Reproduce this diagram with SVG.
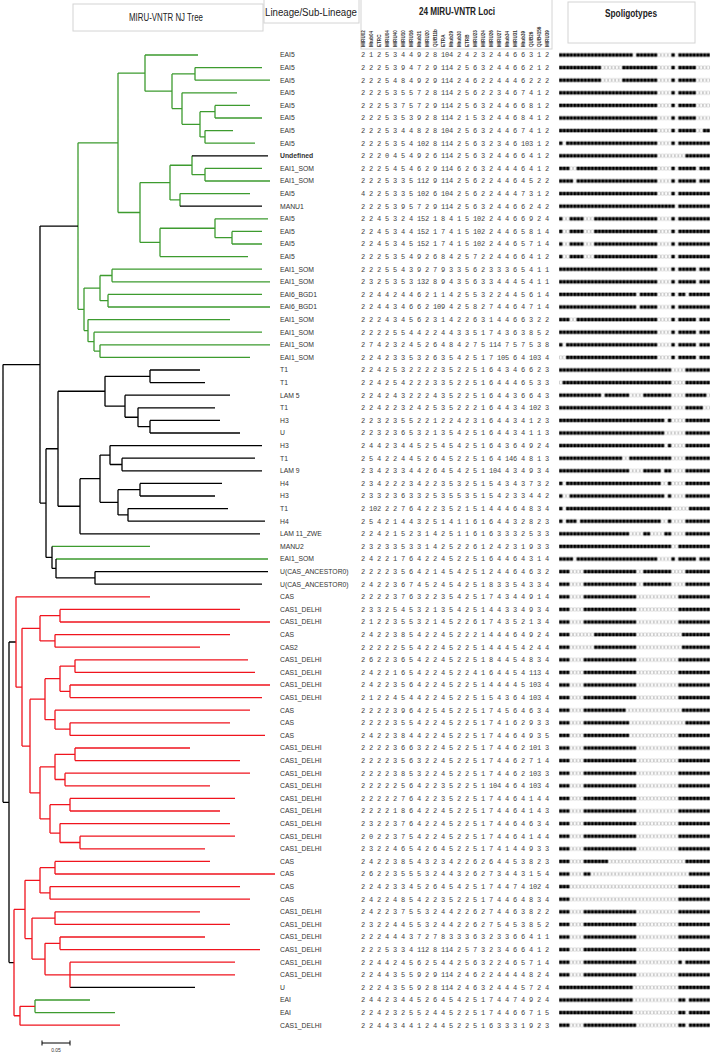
<svg xmlns="http://www.w3.org/2000/svg" width="712" height="1055" viewBox="0 0 712 1055">
<style>
.hd{font-family:"Liberation Sans",Arial,sans-serif;font-size:10px;fill:#222}
.hb{font-weight:bold}
.lc{font-family:"Liberation Sans",Arial,sans-serif;font-size:4.6px;font-weight:bold;fill:#333}
.lb{font-family:"Liberation Sans",Arial,sans-serif;font-size:6.8px;fill:#333}
.n{font-family:"Liberation Mono",monospace;font-size:7px;letter-spacing:-0.2px;fill:#444}
.box{fill:#fff;stroke:#d4d4d4;stroke-width:1}
.g{stroke:#3d9b2f;fill:none;stroke-width:1.3}
.k{stroke:#000;fill:none;stroke-width:1.3}
.r{stroke:#f0141e;fill:none;stroke-width:1.3}
</style>
<defs>
<pattern id="pw" width="1" height="1" patternUnits="userSpaceOnUse"><rect x=".07" y=".365" width=".86" height=".27" fill="#a8a8a8"/><rect x=".2" y=".395" width=".6" height=".21" fill="#fff"/></pattern>
<pattern id="pb" width="1" height="1" patternUnits="userSpaceOnUse"><rect x=".07" y=".365" width=".86" height=".27" fill="#000"/></pattern>
</defs>
<rect width="712" height="1055" fill="#fff"/>
<g id="header">
<rect class="box" x="73" y="4" width="190" height="27"/>
<text class="hd" x="166" y="21" text-anchor="middle" textLength="74" lengthAdjust="spacingAndGlyphs">MIRU-VNTR NJ Tree</text>
<rect class="box" x="264" y="-1" width="95" height="24"/>
<text class="hd" x="311" y="16" text-anchor="middle" textLength="92" lengthAdjust="spacingAndGlyphs">Lineage/Sub-Lineage</text>
<rect class="box" x="361" y="-1" width="191" height="50"/>
<text class="hd hb" x="457" y="15" text-anchor="middle" textLength="76" lengthAdjust="spacingAndGlyphs">24 MIRU-VNTR Loci</text>
<rect class="box" x="568" y="2" width="127" height="41"/>
<text class="hd hb" x="631" y="17" text-anchor="middle" textLength="52" lengthAdjust="spacingAndGlyphs">Spoligotypes</text>
</g>
<g id="loci-names">
<text class="lc" transform="translate(364.6 47) rotate(-90)">MIRU02</text>
<text class="lc" transform="translate(372.6 47) rotate(-90)">Mtub04</text>
<text class="lc" transform="translate(380.6 47) rotate(-90)">ETRC</text>
<text class="lc" transform="translate(388.6 47) rotate(-90)">MIRU04</text>
<text class="lc" transform="translate(396.6 47) rotate(-90)">MIRU40</text>
<text class="lc" transform="translate(404.6 47) rotate(-90)">MIRU10</text>
<text class="lc" transform="translate(412.6 47) rotate(-90)">MIRU16</text>
<text class="lc" transform="translate(420.6 47) rotate(-90)">Mtub21</text>
<text class="lc" transform="translate(428.6 47) rotate(-90)">MIRU20</text>
<text class="lc" transform="translate(436.6 47) rotate(-90)">QUB11b</text>
<text class="lc" transform="translate(444.6 47) rotate(-90)">ETRA</text>
<text class="lc" transform="translate(452.6 47) rotate(-90)">Mtub29</text>
<text class="lc" transform="translate(460.6 47) rotate(-90)">Mtub30</text>
<text class="lc" transform="translate(468.6 47) rotate(-90)">ETRB</text>
<text class="lc" transform="translate(476.6 47) rotate(-90)">MIRU23</text>
<text class="lc" transform="translate(484.6 47) rotate(-90)">MIRU24</text>
<text class="lc" transform="translate(492.6 47) rotate(-90)">MIRU26</text>
<text class="lc" transform="translate(500.6 47) rotate(-90)">MIRU27</text>
<text class="lc" transform="translate(508.6 47) rotate(-90)">Mtub34</text>
<text class="lc" transform="translate(516.6 47) rotate(-90)">MIRU31</text>
<text class="lc" transform="translate(524.6 47) rotate(-90)">Mtub39</text>
<text class="lc" transform="translate(532.6 47) rotate(-90)">QUB26</text>
<text class="lc" transform="translate(540.6 47) rotate(-90)">QUB4156</text>
<text class="lc" transform="translate(548.6 47) rotate(-90)">MIRU39</text>
</g>
<g id="lineages" class="lb">
<text x="280" y="57.4">EAI5</text>
<text x="280" y="70">EAI5</text>
<text x="280" y="82.6">EAI5</text>
<text x="280" y="95.2">EAI5</text>
<text x="280" y="107.8">EAI5</text>
<text x="280" y="120.4">EAI5</text>
<text x="280" y="133">EAI5</text>
<text x="280" y="145.6">EAI5</text>
<text x="280" y="158.2" font-weight="bold">Undefined</text>
<text x="280" y="170.8">EAI1_SOM</text>
<text x="280" y="183.4">EAI1_SOM</text>
<text x="280" y="196">EAI5</text>
<text x="280" y="208.6">MANU1</text>
<text x="280" y="221.2">EAI5</text>
<text x="280" y="233.8">EAI5</text>
<text x="280" y="246.4">EAI5</text>
<text x="280" y="259">EAI5</text>
<text x="280" y="271.6">EAI1_SOM</text>
<text x="280" y="284.2">EAI1_SOM</text>
<text x="280" y="296.8">EAI6_BGD1</text>
<text x="280" y="309.4">EAI6_BGD1</text>
<text x="280" y="322">EAI1_SOM</text>
<text x="280" y="334.6">EAI1_SOM</text>
<text x="280" y="347.2">EAI1_SOM</text>
<text x="280" y="359.8">EAI1_SOM</text>
<text x="280" y="372.4">T1</text>
<text x="280" y="385">T1</text>
<text x="280" y="397.6">LAM 5</text>
<text x="280" y="410.2">T1</text>
<text x="280" y="422.8">H3</text>
<text x="280" y="435.4">U</text>
<text x="280" y="448">H3</text>
<text x="280" y="460.6">T1</text>
<text x="280" y="473.2">LAM 9</text>
<text x="280" y="485.8">H4</text>
<text x="280" y="498.4">H3</text>
<text x="280" y="511">T1</text>
<text x="280" y="523.6">H4</text>
<text x="280" y="536.2">LAM 11_ZWE</text>
<text x="280" y="548.8">MANU2</text>
<text x="280" y="561.4">EAI1_SOM</text>
<text x="280" y="574">U(CAS_ANCESTOR0)</text>
<text x="280" y="586.6">U(CAS_ANCESTOR0)</text>
<text x="280" y="599.2">CAS</text>
<text x="280" y="611.8">CAS1_DELHI</text>
<text x="280" y="624.4">CAS1_DELHI</text>
<text x="280" y="637">CAS</text>
<text x="280" y="649.6">CAS2</text>
<text x="280" y="662.2">CAS1_DELHI</text>
<text x="280" y="674.8">CAS1_DELHI</text>
<text x="280" y="687.4">CAS1_DELHI</text>
<text x="280" y="700">CAS1_DELHI</text>
<text x="280" y="712.6">CAS</text>
<text x="280" y="725.2">CAS</text>
<text x="280" y="737.8">CAS</text>
<text x="280" y="750.4">CAS1_DELHI</text>
<text x="280" y="763">CAS1_DELHI</text>
<text x="280" y="775.6">CAS1_DELHI</text>
<text x="280" y="788.2">CAS1_DELHI</text>
<text x="280" y="800.8">CAS1_DELHI</text>
<text x="280" y="813.4">CAS1_DELHI</text>
<text x="280" y="826">CAS1_DELHI</text>
<text x="280" y="838.6">CAS1_DELHI</text>
<text x="280" y="851.2">CAS1_DELHI</text>
<text x="280" y="863.8">CAS</text>
<text x="280" y="876.4">CAS</text>
<text x="280" y="889">CAS</text>
<text x="280" y="901.6">CAS</text>
<text x="280" y="914.2">CAS1_DELHI</text>
<text x="280" y="926.8">CAS1_DELHI</text>
<text x="280" y="939.4">CAS1_DELHI</text>
<text x="280" y="952">CAS1_DELHI</text>
<text x="280" y="964.6">CAS1_DELHI</text>
<text x="280" y="977.2">CAS1_DELHI</text>
<text x="280" y="989.8">U</text>
<text x="280" y="1002.4">EAI</text>
<text x="280" y="1015">EAI</text>
<text x="280" y="1027.6">CAS1_DELHI</text>
</g>
<g id="loci" class="n">
<text x="361" y="57.4">2 1 2 5 3 4 4 9 2 8 104 2 4 2 3 2 4 4 6 6 3 1 2</text>
<text x="361" y="70">2 2 2 5 3 9 4 7 2 9 114 2 5 6 3 2 4 4 6 6 2 1 2</text>
<text x="361" y="82.6">2 2 2 5 4 8 4 9 2 9 114 2 4 6 2 2 4 4 4 6 2 2 2</text>
<text x="361" y="95.2">2 2 2 5 3 5 5 7 2 8 114 2 5 6 2 2 3 4 6 7 4 1 2</text>
<text x="361" y="107.8">2 2 2 5 3 7 5 7 2 9 114 2 5 6 3 2 4 4 6 6 8 1 2</text>
<text x="361" y="120.4">2 2 2 5 3 5 3 9 2 8 114 2 1 5 3 2 4 4 6 8 4 1 2</text>
<text x="361" y="133">2 2 2 5 3 4 4 8 2 8 104 2 5 6 3 2 4 4 6 7 4 1 2</text>
<text x="361" y="145.6">2 2 2 5 3 5 4 102 8 114 2 5 6 3 2 3 4 6 103 1 2</text>
<text x="361" y="158.2">2 2 2 0 4 5 4 9 2 6 114 2 5 6 3 2 4 4 6 6 4 1 2</text>
<text x="361" y="170.8">2 2 2 5 4 5 4 6 2 9 114 6 2 6 3 2 4 4 4 6 4 1 2</text>
<text x="361" y="183.4">2 2 2 5 3 3 5 112 9 114 2 5 6 2 2 4 4 6 4 5 2 2</text>
<text x="361" y="196">4 2 2 5 3 3 5 102 6 104 2 5 6 2 2 4 4 4 7 3 1 2</text>
<text x="361" y="208.6">2 2 2 5 3 9 5 7 2 9 114 2 5 6 3 2 4 4 6 6 2 4 2</text>
<text x="361" y="221.2">2 2 4 5 3 2 4 152 1 8 4 1 5 102 2 4 4 6 6 9 2 4</text>
<text x="361" y="233.8">2 2 4 5 3 4 4 152 1 7 4 1 5 102 2 4 4 6 5 8 1 4</text>
<text x="361" y="246.4">2 2 4 5 3 4 5 152 1 7 4 1 5 102 2 4 4 6 5 7 1 4</text>
<text x="361" y="259">2 2 2 5 3 5 4 9 2 6 8 4 2 5 7 2 2 4 4 6 6 4 1 2</text>
<text x="361" y="271.6">2 2 2 5 5 4 3 9 2 7 9 3 3 5 6 2 3 3 3 6 5 4 1 1</text>
<text x="361" y="284.2">2 3 2 5 3 5 3 132 8 9 4 3 5 6 3 3 4 4 4 5 4 1 1</text>
<text x="361" y="296.8">2 2 4 4 2 4 4 6 2 1 1 4 2 5 5 3 2 2 4 4 5 6 1 4</text>
<text x="361" y="309.4">2 2 4 4 3 4 6 6 2 109 4 2 5 8 2 7 4 4 6 4 7 1 4</text>
<text x="361" y="322">2 2 2 4 3 4 5 6 2 3 1 4 2 2 6 3 1 4 4 6 6 3 2 2</text>
<text x="361" y="334.6">2 2 2 2 5 5 4 4 2 2 4 4 3 3 5 1 7 4 3 6 3 8 5 2</text>
<text x="361" y="347.2">2 7 4 2 3 2 4 5 2 6 4 8 4 2 7 5 114 7 5 7 5 3 8</text>
<text x="361" y="359.8">2 2 4 2 3 3 5 3 2 6 3 5 4 2 5 1 7 105 6 4 103 4</text>
<text x="361" y="372.4">2 2 4 2 5 3 2 2 2 2 3 5 2 2 5 1 6 4 3 4 6 6 2 3</text>
<text x="361" y="385">2 2 4 2 5 4 2 2 2 3 3 5 2 2 5 1 6 4 4 4 6 5 3 3</text>
<text x="361" y="397.6">2 2 4 2 4 3 2 2 2 4 3 5 2 2 5 1 6 4 4 3 6 6 4 3</text>
<text x="361" y="410.2">2 2 4 2 2 3 2 4 2 5 3 5 2 2 2 1 6 4 4 3 4 102 3</text>
<text x="361" y="422.8">2 2 3 2 3 5 5 2 2 1 2 2 4 2 3 1 6 4 4 3 4 1 2 3</text>
<text x="361" y="435.4">2 2 3 2 3 6 5 3 2 1 3 5 4 2 5 1 6 4 4 3 4 1 1 3</text>
<text x="361" y="448">2 4 4 2 3 4 4 5 2 5 4 5 4 2 5 1 6 4 3 6 4 9 2 4</text>
<text x="361" y="460.6">2 5 4 2 2 4 4 5 2 6 4 5 2 2 5 1 6 4 146 4 8 1 3</text>
<text x="361" y="473.2">2 3 4 2 3 3 4 4 2 6 4 5 4 2 5 1 104 4 3 4 9 3 4</text>
<text x="361" y="485.8">2 3 4 2 2 2 3 4 2 2 3 5 3 2 5 1 5 4 3 4 3 7 3 2</text>
<text x="361" y="498.4">2 3 3 2 3 6 3 3 2 5 3 5 5 3 5 1 5 4 2 3 3 4 4 2</text>
<text x="361" y="511">2 102 2 2 7 6 4 2 2 3 5 2 1 5 1 4 4 4 6 4 8 3 4</text>
<text x="361" y="523.6">2 5 4 2 1 4 4 3 2 5 1 4 1 1 6 1 6 4 4 3 2 8 2 3</text>
<text x="361" y="536.2">2 2 4 2 1 5 2 3 1 4 2 5 1 1 6 1 6 3 3 3 2 5 3 3</text>
<text x="361" y="548.8">2 3 2 3 3 5 3 3 1 4 2 5 2 2 6 1 2 4 2 3 1 9 3 3</text>
<text x="361" y="561.4">2 4 2 2 1 7 6 4 2 2 4 5 2 2 5 1 6 4 4 6 4 3 1 4</text>
<text x="361" y="574">2 2 2 2 3 5 6 4 2 1 4 5 4 2 5 1 2 4 4 6 4 6 3 2</text>
<text x="361" y="586.6">2 4 2 2 3 6 7 4 5 2 4 5 4 2 5 1 8 3 3 5 4 3 3 4</text>
<text x="361" y="599.2">2 2 2 2 3 7 6 3 2 2 3 5 4 2 5 1 7 4 3 4 4 9 1 4</text>
<text x="361" y="611.8">2 3 3 2 5 4 5 3 2 1 3 5 4 2 5 1 4 4 3 3 4 9 3 4</text>
<text x="361" y="624.4">2 1 2 2 3 5 5 3 2 1 4 5 2 2 6 1 7 4 3 5 2 1 3 4</text>
<text x="361" y="637">2 4 2 2 3 8 5 4 2 2 4 5 2 2 2 1 4 4 4 6 4 9 2 4</text>
<text x="361" y="649.6">2 2 2 2 2 5 5 4 2 2 4 5 2 2 5 1 4 4 4 5 4 2 4 4</text>
<text x="361" y="662.2">2 6 2 2 3 6 5 4 2 2 4 5 2 2 5 1 8 4 4 5 4 8 3 4</text>
<text x="361" y="674.8">2 4 2 2 1 6 5 4 2 2 4 5 2 2 4 1 6 4 4 5 4 113 4</text>
<text x="361" y="687.4">2 4 2 2 3 5 6 4 2 2 4 5 2 2 5 1 4 4 4 4 5 103 4</text>
<text x="361" y="700">2 1 2 2 4 5 4 4 2 2 4 5 2 2 5 1 5 4 3 6 4 103 4</text>
<text x="361" y="712.6">2 2 2 2 3 9 6 4 2 5 4 5 2 2 5 1 7 4 5 6 4 6 3 4</text>
<text x="361" y="725.2">2 2 2 2 3 5 5 4 2 2 4 5 2 2 5 1 7 4 1 6 2 9 3 3</text>
<text x="361" y="737.8">2 4 2 2 3 8 4 4 2 2 4 5 2 2 5 1 7 4 4 6 4 9 3 5</text>
<text x="361" y="750.4">2 2 2 2 3 6 6 3 2 2 4 5 2 2 5 1 7 4 4 6 2 101 3</text>
<text x="361" y="763">2 2 2 2 3 5 6 3 2 2 4 5 2 2 5 1 7 4 4 6 2 7 1 4</text>
<text x="361" y="775.6">2 2 2 2 3 8 5 3 2 2 4 5 2 2 5 1 7 4 4 6 2 103 3</text>
<text x="361" y="788.2">2 2 2 2 2 5 6 4 2 2 3 5 2 2 5 1 104 4 6 4 103 4</text>
<text x="361" y="800.8">2 2 2 2 2 7 6 4 2 2 3 5 2 2 5 1 7 4 4 6 4 1 4 4</text>
<text x="361" y="813.4">2 2 2 2 1 8 6 4 2 2 4 5 2 2 5 1 7 4 4 6 4 1 4 3</text>
<text x="361" y="826">2 3 2 2 3 7 6 4 2 2 4 5 2 2 5 1 7 4 4 6 4 6 3 4</text>
<text x="361" y="838.6">2 0 2 2 3 7 5 4 2 2 4 5 2 2 5 1 7 4 4 6 4 1 4 4</text>
<text x="361" y="851.2">2 3 2 2 4 6 5 4 2 6 4 5 2 2 5 1 7 4 1 4 4 9 3 3</text>
<text x="361" y="863.8">2 4 2 2 3 8 5 4 3 2 3 4 2 2 6 2 6 4 4 5 3 8 2 3</text>
<text x="361" y="876.4">2 6 2 2 3 5 5 5 3 2 4 4 3 2 6 2 7 3 4 4 3 1 5 4</text>
<text x="361" y="889">2 2 4 2 3 3 4 5 2 6 4 5 4 2 5 1 7 4 4 7 4 102 4</text>
<text x="361" y="901.6">2 4 2 2 4 8 5 4 2 2 3 5 2 2 5 1 7 4 4 6 4 8 3 4</text>
<text x="361" y="914.2">2 4 2 2 3 7 5 5 3 2 4 4 2 2 6 2 7 4 4 6 3 8 2 2</text>
<text x="361" y="926.8">2 3 2 2 4 4 5 5 3 2 4 4 2 2 6 2 7 5 4 5 3 8 5 2</text>
<text x="361" y="939.4">2 2 2 4 4 4 3 7 2 7 8 3 3 3 6 3 2 3 3 6 6 4 1 1</text>
<text x="361" y="952">2 2 2 5 3 3 4 112 8 114 2 5 7 3 2 3 4 6 6 4 1 2</text>
<text x="361" y="964.6">2 2 4 4 2 4 5 6 2 5 4 4 2 5 6 3 2 2 4 6 5 7 1 4</text>
<text x="361" y="977.2">2 2 4 4 3 5 5 9 2 9 114 2 4 6 2 2 4 4 4 4 8 2 4</text>
<text x="361" y="989.8">2 2 2 4 3 5 5 9 2 8 114 2 4 6 3 2 4 4 4 5 7 2 4</text>
<text x="361" y="1002.4">2 4 4 2 3 4 4 5 2 6 4 5 4 2 5 1 7 4 4 7 4 9 2 4</text>
<text x="361" y="1015">2 2 4 2 3 2 5 5 2 4 4 5 2 2 5 1 7 4 4 6 6 7 1 5</text>
<text x="361" y="1027.6">2 2 4 4 3 4 4 1 2 4 4 5 2 2 5 1 6 3 3 3 1 9 2 3</text>
</g>
<g id="spoligotypes" transform="translate(559 48.7) scale(3.51 12.6)">
<rect width="43" height="78" fill="url(#pw)"/>
<path fill="url(#pb)" d="M0 0h21v1h-21zM22 0h6v1h-6zM32 0h1v1h-1zM34 0h9v1h-9zM0 1h12v2h-12zM18 1h10v2h-10zM32 1h1v2h-1zM34 1h5v2h-5zM0 3h28v3h-28zM32 3h1v3h-1zM34 3h5v3h-5zM0 6h28v1h-28zM32 6h1v1h-1zM34 6h5v1h-5zM41 6h2v1h-2zM0 7h1v1h-1zM2 7h26v1h-26zM32 7h1v1h-1zM34 7h9v1h-9zM0 8h28v1h-28zM36 8h7v1h-7zM0 9h3v1h-3zM5 9h23v1h-23zM32 9h1v1h-1zM34 9h5v1h-5zM40 9h3v1h-3zM0 10h4v1h-4zM5 10h23v1h-23zM32 10h1v1h-1zM34 10h5v1h-5zM40 10h3v1h-3zM0 11h28v1h-28zM32 11h1v1h-1zM34 11h9v1h-9zM0 12h33v1h-33zM34 12h9v1h-9zM0 13h1v4h-1zM3 13h4v4h-4zM10 13h18v4h-18zM32 13h1v4h-1zM34 13h9v4h-9zM0 17h28v2h-28zM32 17h1v2h-1zM34 17h5v2h-5zM40 17h3v2h-3zM0 19h22v1h-22zM23 19h5v1h-5zM32 19h1v1h-1zM34 19h2v1h-2zM37 19h6v1h-6zM0 20h22v1h-22zM23 20h5v1h-5zM32 20h1v1h-1zM34 20h9v1h-9zM0 21h3v1h-3zM5 21h23v1h-23zM32 21h1v1h-1zM34 21h5v1h-5zM40 21h3v1h-3zM0 22h28v1h-28zM32 22h1v1h-1zM34 22h5v1h-5zM40 22h3v1h-3zM0 23h1v1h-1zM2 23h26v1h-26zM32 23h1v1h-1zM34 23h5v1h-5zM40 23h3v1h-3zM2 24h26v1h-26zM32 24h1v1h-1zM34 24h5v1h-5zM40 24h3v1h-3zM0 25h32v1h-32zM36 25h7v1h-7zM1 26h31v1h-31zM36 26h7v1h-7zM0 27h12v1h-12zM13 27h7v1h-7zM24 27h8v1h-8zM36 27h6v1h-6zM0 28h32v1h-32zM36 28h5v1h-5zM0 29h30v1h-30zM31 29h1v1h-1zM36 29h7v1h-7zM0 30h30v1h-30zM36 30h7v1h-7zM0 31h30v1h-30zM31 31h1v1h-1zM36 31h7v1h-7zM0 32h18v1h-18zM20 32h12v1h-12zM36 32h7v1h-7zM0 33h20v1h-20zM24 33h5v1h-5zM30 33h2v1h-2zM36 33h7v1h-7zM0 34h1v1h-1zM2 34h27v1h-27zM31 34h1v1h-1zM36 34h7v1h-7zM0 35h1v1h-1zM3 35h27v1h-27zM31 35h1v1h-1zM36 35h7v1h-7zM0 36h1v1h-1zM2 36h30v1h-30zM37 36h6v1h-6zM0 37h1v1h-1zM2 37h3v1h-3zM6 37h23v1h-23zM31 37h1v1h-1zM36 37h7v1h-7zM0 38h20v1h-20zM24 38h2v1h-2zM30 38h2v1h-2zM36 38h7v1h-7zM0 39h32v1h-32zM34 39h9v1h-9zM0 40h4v1h-4zM5 40h23v1h-23zM32 40h1v1h-1zM34 40h5v1h-5zM40 40h3v1h-3zM0 41h3v2h-3zM7 41h15v2h-15zM24 41h8v2h-8zM36 41h7v2h-7zM0 43h3v3h-3zM7 43h15v3h-15zM34 43h9v3h-9zM0 46h3v2h-3zM10 46h12v2h-12zM35 46h8v2h-8zM0 48h3v4h-3zM7 48h15v4h-15zM34 48h9v4h-9zM0 52h3v1h-3zM7 52h12v1h-12zM35 52h8v1h-8zM0 53h3v1h-3zM7 53h13v1h-13zM36 53h7v1h-7zM0 54h3v1h-3zM7 54h13v1h-13zM34 54h9v1h-9zM0 55h3v9h-3zM7 55h15v9h-15zM34 55h9v9h-9zM0 64h3v1h-3zM7 64h7v1h-7zM36 64h7v1h-7zM0 65h3v1h-3zM7 65h2v1h-2zM37 65h6v1h-6zM0 66h3v2h-3zM34 66h9v2h-9zM0 68h3v4h-3zM7 68h15v4h-15zM34 68h9v4h-9zM0 72h3v1h-3zM7 72h15v1h-15zM34 72h1v1h-1zM36 72h7v1h-7zM0 73h3v1h-3zM7 73h15v1h-15zM34 73h9v1h-9zM0 74h21v1h-21zM34 74h9v1h-9zM0 75h21v2h-21zM34 75h2v2h-2zM37 75h6v2h-6zM0 77h3v1h-3zM7 77h15v1h-15zM34 77h2v1h-2zM37 77h6v1h-6z"/>
</g>
<g id="tree">
<path class="g" d="M215 105.4V118M215 105.4H250M215 118H262M205 130.6V143.2M205 130.6H233M205 143.2H255M200 111.7V136.9M200 111.7H215M200 136.9H205M182 92.8V124.3M182 92.8H237M182 124.3H200M195 67.6V80.2M195 67.6H262M195 80.2H270M172 73.9V108.55M172 73.9H195M172 108.55H182M145 55V91.2M145 55H198M145 91.2H172M205 168.4V181M205 168.4H262M205 181H270M192 155.8V174.7M192 174.7H205M180 193.6V206.2M180 193.6H250M170 165.25V199.9M170 165.25H192M170 199.9H180M232 231.4V244M232 231.4H262M232 244H262M215 218.8V237.7M215 218.8H268M215 237.7H232M160 228.25V256.6M160 228.25H215M160 256.6H248M140 182.6V242.4M140 182.6H170M140 242.4H160M118 73.1V212.5M118 73.1H145M118 212.5H140M112 269.2V281.8M112 269.2H262M112 281.8H270M108 294.4V307M108 294.4H262M108 307H270M100 275.5V300.7M100 275.5H112M100 300.7H108M100 344.8V357.4M100 344.8H270M100 357.4H250M94 332.2V351.1M94 332.2H262M94 351.1H100M88 319.6V341.65M88 319.6H230M88 341.65H94M84 288.1V330.6M84 288.1H100M84 330.6H88M78 142.8V309.35M78 142.8H118M78 309.35H84M52 546.4H150M56 559H268M35 1000V1012.6M35 1000H90M35 1012.6H115"/>
<path class="k" d="M192 155.8H268M180 206.2H262M40 226.1V503.1M40 226.1H78M40 503.1H46M46 448.75V557.4M46 448.75H58M46 557.4H52M52 546.4V568.45M52 568.45H56M56 559V577.9M56 577.9H95M95 571.6V584.2M95 571.6H268M95 584.2H262M58 391.25V506.25M58 391.25H105M58 506.25H80M105 376.3V406.2M105 376.3H150M105 406.2H125M150 370V382.6M150 370H200M150 382.6H205M125 395.2V417.25M125 395.2H230M125 417.25H138M138 407.8V426.7M138 407.8H215M138 426.7H150M150 420.4V433M150 420.4H220M150 433H240M80 478.7V533.8M80 478.7H100M80 533.8H260M100 455.05V502.3M100 455.05H110M100 502.3H118M110 445.6V464.5M110 445.6H262M110 464.5H122M122 458.2V470.8M122 458.2H255M122 470.8H262M118 489.7V514.9M118 489.7H140M118 514.9H128M140 483.4V496M140 483.4H222M140 496H215M128 508.6V521.2M128 508.6H228M128 521.2H265M3 364.6V802.3M3 364.6H40M3 802.3H9M9 642V962.6M9 642H16M9 962.6H14M70 987.4H195"/>
<path class="r" d="M16 596.8V687.2M16 596.8H150M16 687.2H22M22 628.3V746.05M22 628.3H40M22 746.05H30M40 615.7V640.9M40 615.7H60M40 640.9H55M60 609.4V622M60 609.4H240M60 622H270M55 634.6V647.2M55 634.6H230M55 647.2H200M30 699.2V792.9M30 699.2H45M30 792.9H40M45 678.7V719.65M45 678.7H60M45 719.65H55M60 666.1V691.3M60 666.1H75M60 691.3H70M75 659.8V672.4M75 659.8H248M75 672.4H255M70 685V697.6M70 685H270M70 697.6H262M55 710.2V729.1M55 710.2H250M55 729.1H70M70 722.8V735.4M70 722.8H230M70 735.4H265M40 766.9V818.9M40 766.9H55M40 818.9H50M55 754.3V779.5M55 754.3H75M55 779.5H65M75 748V760.6M75 748H190M75 760.6H240M65 773.2V785.8M65 773.2H250M65 785.8H210M50 804.7V833.05M50 804.7H70M50 833.05H60M70 798.4V811M70 798.4H235M70 811H220M60 823.6V842.5M60 823.6H230M60 842.5H80M80 836.2V848.8M80 836.2H235M80 848.8H205M14 909.45V1015.75M14 909.45H25M14 1015.75H20M25 880.3V938.6M25 880.3H40M25 938.6H32M40 867.7V892.9M40 867.7H55M40 892.9H50M55 861.4V874M55 861.4H210M55 874H275M50 886.6V899.2M50 886.6H240M50 899.2H250M32 918.1V959.05M32 918.1H55M32 959.05H45M55 911.8V924.4M55 911.8H200M55 924.4H230M45 943.3V974.8M45 943.3H60M45 974.8H70M60 937V949.6M60 937H205M60 949.6H260M70 962.2V987.4M70 962.2H235M70 974.8H235M20 1006.3V1025.2M20 1006.3H35M20 1025.2H120"/>
</g>
<g id="scale">
<path d="M42 1043H70M42 1040.5V1045.5M70 1040.5V1045.5" stroke="#000" stroke-width="1" fill="none"/>
<text x="56" y="1052" text-anchor="middle" font-family="Liberation Sans,Arial,sans-serif" font-size="5" fill="#333">0.05</text>
</g>
</svg>
